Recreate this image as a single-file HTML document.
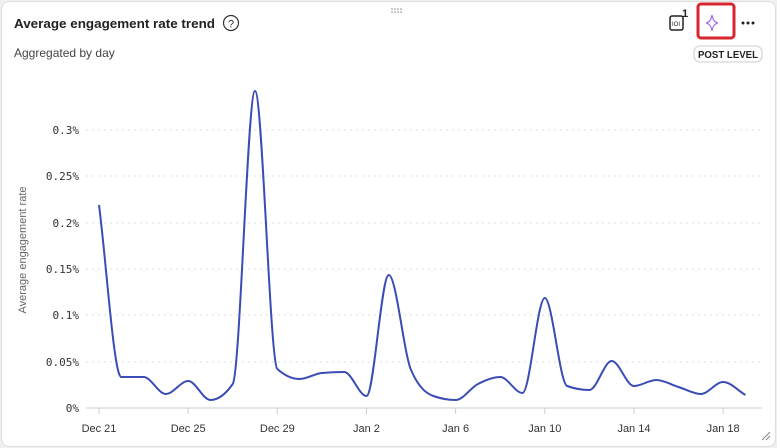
<!DOCTYPE html><html><head><style>
body{margin:0;background:#f0f0f0;width:777px;height:448px;overflow:hidden;font-family:"Liberation Sans",sans-serif}
.card{position:absolute;left:1px;top:1px;width:773px;height:444px;background:#fff;border:1px solid #ddd;border-radius:8px}
</style></head><body><div class="card"></div>
<svg width="777" height="448" style="position:absolute;left:0;top:0">
<g fill="#888"><circle cx="392" cy="9" r=".8"/><circle cx="395" cy="9" r=".8"/><circle cx="398" cy="9" r=".8"/><circle cx="401" cy="9" r=".8"/><circle cx="392" cy="12" r=".8"/><circle cx="395" cy="12" r=".8"/><circle cx="398" cy="12" r=".8"/><circle cx="401" cy="12" r=".8"/></g>
<text x="14" y="28" font-size="13" font-weight="bold" fill="#222" textLength="201" lengthAdjust="spacingAndGlyphs">Average engagement rate trend</text>
<circle cx="231" cy="23" r="7.5" fill="none" stroke="#333" stroke-width="1.2"/><text x="231" y="27.5" font-size="11" text-anchor="middle" fill="#333">?</text>
<text x="14" y="57" font-size="12" fill="#444">Aggregated by day</text>
<rect x="670" y="16" width="13" height="14" rx="2" fill="none" stroke="#222" stroke-width="1.5"/>
<text x="676" y="26" font-size="6" text-anchor="middle" fill="#222">IOI</text>
<text x="682" y="17" font-size="11" font-weight="bold" fill="#222">1</text>
<rect x="698" y="4" width="36" height="34" rx="3" fill="none" stroke="#d7262f" stroke-width="3"/>
<path d="M712 15 Q713 22 718 23 Q713 24 712 31 Q711 24 706 23 Q711 22 712 15Z" fill="none" stroke="#9b6be8" stroke-width="1.1"/>
<g fill="#222"><circle cx="743" cy="23" r="1.5"/><circle cx="748" cy="23" r="1.5"/><circle cx="753" cy="23" r="1.5"/></g>
<rect x="694" y="46" width="68" height="16" rx="6" fill="#fff" stroke="#ccc"/>
<text x="728" y="58" font-size="10" font-weight="bold" text-anchor="middle" fill="#222" textLength="60" lengthAdjust="spacingAndGlyphs">POST LEVEL</text>
<g stroke="#ddd" stroke-dasharray="2,4" stroke-width="1">
<line x1="86" x2="762" y1="130" y2="130"/><line x1="86" x2="762" y1="176" y2="176"/><line x1="86" x2="762" y1="223" y2="223"/><line x1="86" x2="762" y1="269" y2="269"/><line x1="86" x2="762" y1="315" y2="315"/><line x1="86" x2="762" y1="362" y2="362"/></g>
<line x1="86" x2="762" y1="408" y2="408" stroke="#ccc"/>
<g font-family="'DejaVu Sans Mono',monospace" font-size="11" fill="#333" text-anchor="end">
<text x="79" y="134">0.3%</text><text x="79" y="180">0.25%</text><text x="79" y="227">0.2%</text><text x="79" y="273">0.15%</text><text x="79" y="319">0.1%</text><text x="79" y="366">0.05%</text><text x="79" y="412">0%</text></g>
<text transform="translate(26,250) rotate(-90)" font-size="11" fill="#666" text-anchor="middle">Average engagement rate</text>
<g id="xt" font-size="11" fill="#333" text-anchor="middle"></g>
<path id="ln" fill="none" stroke="#3a4cb5" stroke-width="2"/>
<path d="M762 440 L770 432 M766 440 L770 436" stroke="#888"/>
</svg>
<script>
var ys=[205,377,377,394,381,400,384,91,369,379,373,372,396,275,370,396,400,384,377,393,298,386,390,361,386,380,387,394,382,395];
var h=22.29,n=ys.length,s=[],m=[];
for(var i=0;i<n-1;i++)s.push((ys[i+1]-ys[i])/h);
m[0]=s[0];m[n-1]=s[n-2];
for(var i=1;i<n-1;i++){var a=s[i-1],b=s[i];m[i]=(a*b<=0)?0:(Math.sign(a)+Math.sign(b))*Math.min(Math.abs(a),Math.abs(b),0.5*Math.abs((a+b)/2));}
var d="M99,"+ys[0];
for(var i=0;i<n-1;i++){var x0=99+i*h,x1=x0+h;d+=" C"+(x0+h/3)+","+(ys[i]+m[i]*h/3)+" "+(x1-h/3)+","+(ys[i+1]-m[i+1]*h/3)+" "+x1+","+ys[i+1];}
document.getElementById("ln").setAttribute("d",d);
var L=["Dec 21","Dec 25","Dec 29","Jan 2","Jan 6","Jan 10","Jan 14","Jan 18"],t="";
L.forEach(function(l,k){var x=99+k*4*h;t+='<line x1="'+x+'" x2="'+x+'" y1="408" y2="414" stroke="#ccc"/><text x="'+x+'" y="432">'+l+'</text>';});
document.getElementById("xt").innerHTML=t;
</script></body></html>
